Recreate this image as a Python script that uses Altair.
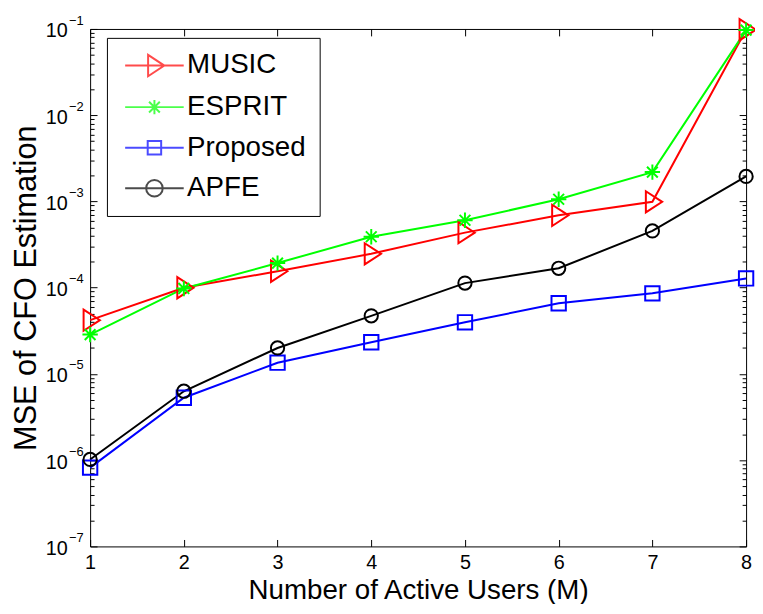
import altair as alt
import pandas as pd

# ---- data ----
users = [1, 2, 3, 4, 5, 6, 7, 8]
methods = ["MUSIC", "ESPRIT", "Proposed", "APFE"]
mse_music = [4.2e-5, 1.0e-4, 1.55e-4, 2.47e-4, 4.35e-4, 6.9e-4, 9.9e-4, 0.098]
mse_esprit = [2.86e-5, 9.8e-5, 1.93e-4, 3.9e-4, 6.05e-4, 1.06e-3, 2.19e-3, 0.097]
mse_proposed = [8.2e-7, 5.3e-6, 1.35e-5, 2.33e-5, 3.97e-5, 6.6e-5, 8.6e-5, 1.28e-4]
mse_apfe = [1.02e-6, 6.3e-6, 2.0e-5, 4.72e-5, 1.13e-4, 1.68e-4, 4.55e-4, 1.95e-3]
colors = ["#ff0000", "#00ff00", "#0000ff", "#000000"]
y_decades = [1e-7, 1e-6, 1e-5, 1e-4, 1e-3, 1e-2, 1e-1]
y_minor = [k * d for d in [1e-7, 1e-6, 1e-5, 1e-4, 1e-3, 1e-2] for k in range(2, 10)]

series = {"MUSIC": mse_music, "ESPRIT": mse_esprit, "Proposed": mse_proposed, "APFE": mse_apfe}
rows = []
for m in methods:
    for u, v in zip(users, series[m]):
        rows.append({"users": u, "mse": v, "method": m})
df = pd.DataFrame(rows)

W, H = 663, 523
FONT = "Liberation Sans"

# marker shapes (plot)
tri = "M-0.8,-1.3L1.2,0L-0.8,1.3Z"
star = "M-1,0L1,0M0,-1L0,1M-0.7,-0.7L0.7,0.7M-0.7,0.7L0.7,-0.7"
plot_shapes = [tri, star, "square", "circle"]
plot_sizes = [272, 180, 182, 289]

# legend symbols (line + marker)
ln = "M-3.7,0L3.7,0"
leg_shapes = [
    ln + "M-0.8,-1.35L1.25,0L-0.8,1.35Z",
    ln + "M0,-0.9L0,0.9M-0.68,-0.68L0.68,0.68M-0.68,0.68L0.68,-0.68",
    ln + "M-0.85,-0.85L0.85,-0.85L0.85,0.85L-0.85,0.85Z",
    ln + "M-1.05,0A1.05,1.05 0 1,1 1.05,0A1.05,1.05 0 1,1 -1.05,0Z",
]

xs = alt.Scale(domain=[1, 8], nice=False, zero=False)
ys = alt.Scale(type="log", domain=[1e-7, 1e-1], nice=False)

# inward ticks on both sides are drawn as dashed grid lines (dash at each end)
x_label_axis = alt.Axis(orient="bottom", values=users, format="d", ticks=False, domain=False,
                        grid=True, gridColor="black", gridOpacity=1, gridWidth=1,
                        gridDash=[7, H - 14],
                        labelFont=FONT, labelFontSize=20, labelColor="black",
                        labelPadding=6, labelFlush=False, title="Number of Active Users (M)",
                        titleFont=FONT, titleFontSize=28, titleFontWeight="normal",
                        titleColor="black", titleX=W / 2, titleY=53,
                        titleBaseline="alphabetic", titleAlign="center")

y_base_axis = alt.Axis(orient="left", values=y_decades, labelExpr="'10'", ticks=False,
                       domain=False, grid=True, gridColor="black", gridOpacity=1, gridWidth=1,
                       gridDash=[7, W - 14],
                       labelFont=FONT, labelFontSize=20,
                       labelColor="black", labelPadding=23, labelOffset=2, labelAlign="right",
                       labelBaseline="middle", labelFlush=False, labelOverlap=False,
                       title="MSE of CFO Estimation", titleFont=FONT, titleFontSize=31,
                       titleFontWeight="normal", titleColor="black", titleX=-55, titleY=H / 2,
                       titleAngle=270, titleBaseline="alphabetic", titleAlign="center")

y_exp_axis = alt.Axis(orient="left", values=y_decades,
                      labelExpr="'\u2212' + round(-log(datum.value)/LN10)", ticks=False,
                      domain=False, grid=False, labelFont=FONT, labelFontSize=13,
                      labelColor="black", labelPadding=7, labelOffset=-9, labelAlign="right",
                      labelBaseline="middle", labelFlush=False, labelOverlap=False, title=None)

y_minor_axis = alt.Axis(orient="left", values=y_minor, labels=False, ticks=False, domain=False,
                        grid=True, gridColor="black", gridOpacity=1, gridWidth=1,
                        gridDash=[4, W - 8], title=None)

color_sc = alt.Scale(domain=methods, range=colors)

lines = alt.Chart(df).mark_line(strokeWidth=2).encode(
    x=alt.X("users:Q", scale=xs, axis=x_label_axis),
    y=alt.Y("mse:Q", scale=ys, axis=y_base_axis),
    color=alt.Color("method:N", scale=color_sc, legend=None),
)

points = alt.Chart(df).mark_point(filled=False, strokeWidth=2, opacity=1).encode(
    x=alt.X("users:Q", scale=xs, axis=None),
    y=alt.Y("mse:Q", scale=ys, axis=y_exp_axis),
    color=alt.Color("method:N", scale=color_sc, legend=None),
    shape=alt.Shape("method:N", scale=alt.Scale(domain=methods, range=plot_shapes), legend=None),
    size=alt.Size("method:N", scale=alt.Scale(domain=methods, range=plot_sizes), legend=None),
)

leg = alt.Legend(orient="none", legendX=17, legendY=9, title=None, padding=14,
                 symbolOffset=20, labelOffset=19, symbolSize=256, symbolStrokeWidth=2,
                 labelFont=FONT, labelFontSize=28, labelColor="black", rowPadding=13,
                 strokeColor="black", fillColor="white", cornerRadius=0)

legend_layer = alt.Chart(df).transform_filter("false").mark_point(filled=False, strokeWidth=2).encode(
    x=alt.X("users:Q", scale=xs, axis=None),
    y=alt.Y("mse:Q", scale=ys, axis=y_minor_axis),
    color=alt.Color("method:N", scale=color_sc, legend=leg),
    shape=alt.Shape("method:N", scale=alt.Scale(domain=methods, range=leg_shapes), legend=leg),
)

chart = alt.layer(legend_layer, lines, points).resolve_scale(
    color="independent", shape="independent", size="independent"
).resolve_axis(x="independent", y="independent").properties(
    width=W, height=H,
    autosize=alt.AutoSizeParams(type="none"),
    padding={"left": 83, "top": 18, "right": 9, "bottom": 55},
    background="white",
).configure_view(stroke="black", strokeWidth=1)

chart.save("out.html", embed_options={"renderer": "svg", "actions": False})
